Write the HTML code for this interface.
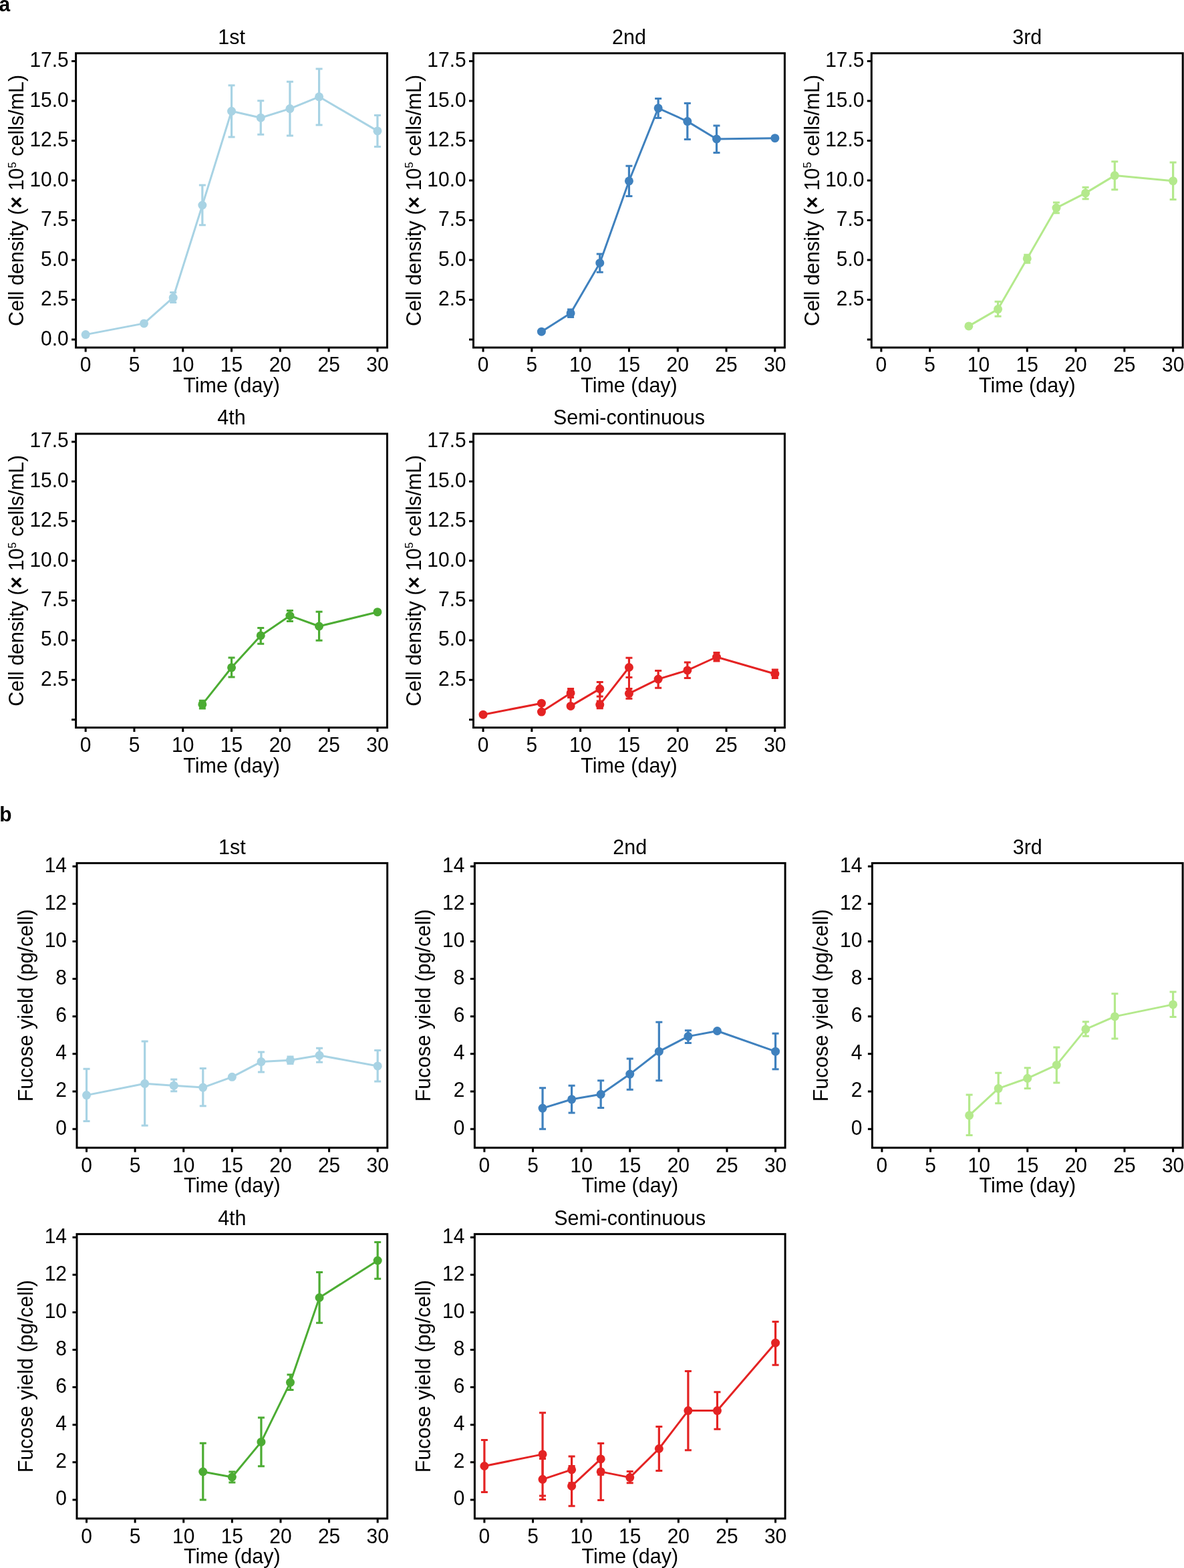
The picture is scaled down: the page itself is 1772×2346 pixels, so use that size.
<!DOCTYPE html><html><head><meta charset="utf-8"><title>Figure</title><style>html,body{margin:0;padding:0;background:#fff;}svg{display:block;}text{font-family:"Liberation Sans", Arial, Helvetica, sans-serif;font-size:30px;fill:#000;}</style></head><body>
<svg width="1772" height="2346" viewBox="0 0 1772 2346">
<rect width="1772" height="2346" fill="#fff"/>
<text transform="translate(-1.4 17.2) scale(1 1.04)" font-weight="bold">a</text>
<text transform="translate(-0.7 1229) scale(1 1.04)" font-weight="bold">b</text>
<path d="M107.1 508.1H113.6M107.1 448.6H113.6M107.1 389.1H113.6M107.1 329.6H113.6M107.1 270.1H113.6M107.1 210.6H113.6M107.1 151.1H113.6M107.1 91.6H113.6M128.16 520V526.5M200.96 520V526.5M273.75 520V526.5M346.55 520V526.5M419.35 520V526.5M492.14 520V526.5M564.94 520V526.5" stroke="#000" stroke-width="3" fill="none"/>
<rect x="113.6" y="79.7" width="465.9" height="440.3" fill="none" stroke="#000" stroke-width="3"/>
<text transform="translate(102.8 516.6) scale(1 1.04)" text-anchor="end">0.0</text>
<text transform="translate(102.8 457.1) scale(1 1.04)" text-anchor="end">2.5</text>
<text transform="translate(102.8 397.6) scale(1 1.04)" text-anchor="end">5.0</text>
<text transform="translate(102.8 338.1) scale(1 1.04)" text-anchor="end">7.5</text>
<text transform="translate(102.8 278.6) scale(1 1.04)" text-anchor="end">10.0</text>
<text transform="translate(102.8 219.1) scale(1 1.04)" text-anchor="end">12.5</text>
<text transform="translate(102.8 159.6) scale(1 1.04)" text-anchor="end">15.0</text>
<text transform="translate(102.8 100.1) scale(1 1.04)" text-anchor="end">17.5</text>
<text transform="translate(128.16 555.9) scale(1 1.04)" text-anchor="middle">0</text>
<text transform="translate(200.96 555.9) scale(1 1.04)" text-anchor="middle">5</text>
<text transform="translate(273.75 555.9) scale(1 1.04)" text-anchor="middle">10</text>
<text transform="translate(346.55 555.9) scale(1 1.04)" text-anchor="middle">15</text>
<text transform="translate(419.35 555.9) scale(1 1.04)" text-anchor="middle">20</text>
<text transform="translate(492.14 555.9) scale(1 1.04)" text-anchor="middle">25</text>
<text transform="translate(564.94 555.9) scale(1 1.04)" text-anchor="middle">30</text>
<text transform="translate(346.55 587) scale(1 1.04)" text-anchor="middle" style="font-size:30.5px">Time (day)</text>
<text transform="translate(346.55 66) scale(1 1.04)" text-anchor="middle" style="font-size:30.5px">1st</text>
<text transform="translate(35 299.85) rotate(-90) scale(1 1.04)" text-anchor="middle" style="font-size:30.5px">Cell density (<tspan style="font-weight:bold">&#215;</tspan> 10<tspan style="font-size:16.5px" dy="-11">5</tspan><tspan dy="11"> cells/mL)</tspan></text>
<path d="M259.19 437.6V452.6M302.87 277.1V336.8M346.55 127.8V205M390.23 150.7V201.3M433.91 122.3V203.1M477.58 102.9V187M564.94 172.6V219.6" stroke="#a8d3e4" stroke-width="3.2" fill="none"/>
<path d="M254.19 437.6H264.19M254.19 452.6H264.19M297.87 277.1H307.87M297.87 336.8H307.87M341.55 127.8H351.55M341.55 205H351.55M385.23 150.7H395.23M385.23 201.3H395.23M428.91 122.3H438.91M428.91 203.1H438.91M472.58 102.9H482.58M472.58 187H482.58M559.94 172.6H569.94M559.94 219.6H569.94" stroke="#a8d3e4" stroke-width="3" fill="none"/>
<polyline points="128.16,500.6 215.52,483.9 259.19,445.3 302.87,307 346.55,166.3 390.23,176.2 433.91,162.6 477.58,144.8 564.94,195.9" stroke="#a8d3e4" stroke-width="3" fill="none" stroke-linejoin="round"/>
<circle cx="128.16" cy="500.6" r="6.5" fill="#a8d3e4"/>
<circle cx="215.52" cy="483.9" r="6.5" fill="#a8d3e4"/>
<circle cx="259.19" cy="445.3" r="6.5" fill="#a8d3e4"/>
<circle cx="302.87" cy="307" r="6.5" fill="#a8d3e4"/>
<circle cx="346.55" cy="166.3" r="6.5" fill="#a8d3e4"/>
<circle cx="390.23" cy="176.2" r="6.5" fill="#a8d3e4"/>
<circle cx="433.91" cy="162.6" r="6.5" fill="#a8d3e4"/>
<circle cx="477.58" cy="144.8" r="6.5" fill="#a8d3e4"/>
<circle cx="564.94" cy="195.9" r="6.5" fill="#a8d3e4"/>
<path d="M702 508.1H708.5M702 448.6H708.5M702 389.1H708.5M702 329.6H708.5M702 270.1H708.5M702 210.6H708.5M702 151.1H708.5M702 91.6H708.5M723.06 520V526.5M795.86 520V526.5M868.65 520V526.5M941.45 520V526.5M1014.25 520V526.5M1087.04 520V526.5M1159.84 520V526.5" stroke="#000" stroke-width="3" fill="none"/>
<rect x="708.5" y="79.7" width="465.9" height="440.3" fill="none" stroke="#000" stroke-width="3"/>
<text transform="translate(697.7 457.1) scale(1 1.04)" text-anchor="end">2.5</text>
<text transform="translate(697.7 397.6) scale(1 1.04)" text-anchor="end">5.0</text>
<text transform="translate(697.7 338.1) scale(1 1.04)" text-anchor="end">7.5</text>
<text transform="translate(697.7 278.6) scale(1 1.04)" text-anchor="end">10.0</text>
<text transform="translate(697.7 219.1) scale(1 1.04)" text-anchor="end">12.5</text>
<text transform="translate(697.7 159.6) scale(1 1.04)" text-anchor="end">15.0</text>
<text transform="translate(697.7 100.1) scale(1 1.04)" text-anchor="end">17.5</text>
<text transform="translate(723.06 555.9) scale(1 1.04)" text-anchor="middle">0</text>
<text transform="translate(795.86 555.9) scale(1 1.04)" text-anchor="middle">5</text>
<text transform="translate(868.65 555.9) scale(1 1.04)" text-anchor="middle">10</text>
<text transform="translate(941.45 555.9) scale(1 1.04)" text-anchor="middle">15</text>
<text transform="translate(1014.25 555.9) scale(1 1.04)" text-anchor="middle">20</text>
<text transform="translate(1087.04 555.9) scale(1 1.04)" text-anchor="middle">25</text>
<text transform="translate(1159.84 555.9) scale(1 1.04)" text-anchor="middle">30</text>
<text transform="translate(941.45 587) scale(1 1.04)" text-anchor="middle" style="font-size:30.5px">Time (day)</text>
<text transform="translate(941.45 66) scale(1 1.04)" text-anchor="middle" style="font-size:30.5px">2nd</text>
<text transform="translate(629.9 299.85) rotate(-90) scale(1 1.04)" text-anchor="middle" style="font-size:30.5px">Cell density (<tspan style="font-weight:bold">&#215;</tspan> 10<tspan style="font-size:16.5px" dy="-11">5</tspan><tspan dy="11"> cells/mL)</tspan></text>
<path d="M854.09 463V474.4M897.77 380.1V407.3M941.45 248.2V293.4M985.13 147.4V176.5M1028.81 154.4V208.5M1072.48 187.9V228.6" stroke="#3f81be" stroke-width="3.2" fill="none"/>
<path d="M849.09 463H859.09M849.09 474.4H859.09M892.77 380.1H902.77M892.77 407.3H902.77M936.45 248.2H946.45M936.45 293.4H946.45M980.13 147.4H990.13M980.13 176.5H990.13M1023.81 154.4H1033.81M1023.81 208.5H1033.81M1067.48 187.9H1077.48M1067.48 228.6H1077.48" stroke="#3f81be" stroke-width="3" fill="none"/>
<polyline points="810.42,496.2 854.09,468.6 897.77,393.4 941.45,270.8 985.13,161.8 1028.81,181.6 1072.48,208 1159.84,206.7" stroke="#3f81be" stroke-width="3" fill="none" stroke-linejoin="round"/>
<circle cx="810.42" cy="496.2" r="6.5" fill="#3f81be"/>
<circle cx="854.09" cy="468.6" r="6.5" fill="#3f81be"/>
<circle cx="897.77" cy="393.4" r="6.5" fill="#3f81be"/>
<circle cx="941.45" cy="270.8" r="6.5" fill="#3f81be"/>
<circle cx="985.13" cy="161.8" r="6.5" fill="#3f81be"/>
<circle cx="1028.81" cy="181.6" r="6.5" fill="#3f81be"/>
<circle cx="1072.48" cy="208" r="6.5" fill="#3f81be"/>
<circle cx="1159.84" cy="206.7" r="6.5" fill="#3f81be"/>
<path d="M1297.8 508.1H1304.3M1297.8 448.6H1304.3M1297.8 389.1H1304.3M1297.8 329.6H1304.3M1297.8 270.1H1304.3M1297.8 210.6H1304.3M1297.8 151.1H1304.3M1297.8 91.6H1304.3M1318.86 520V526.5M1391.66 520V526.5M1464.45 520V526.5M1537.25 520V526.5M1610.05 520V526.5M1682.84 520V526.5M1755.64 520V526.5" stroke="#000" stroke-width="3" fill="none"/>
<rect x="1304.3" y="79.7" width="465.9" height="440.3" fill="none" stroke="#000" stroke-width="3"/>
<text transform="translate(1293.5 457.1) scale(1 1.04)" text-anchor="end">2.5</text>
<text transform="translate(1293.5 397.6) scale(1 1.04)" text-anchor="end">5.0</text>
<text transform="translate(1293.5 338.1) scale(1 1.04)" text-anchor="end">7.5</text>
<text transform="translate(1293.5 278.6) scale(1 1.04)" text-anchor="end">10.0</text>
<text transform="translate(1293.5 219.1) scale(1 1.04)" text-anchor="end">12.5</text>
<text transform="translate(1293.5 159.6) scale(1 1.04)" text-anchor="end">15.0</text>
<text transform="translate(1293.5 100.1) scale(1 1.04)" text-anchor="end">17.5</text>
<text transform="translate(1318.86 555.9) scale(1 1.04)" text-anchor="middle">0</text>
<text transform="translate(1391.66 555.9) scale(1 1.04)" text-anchor="middle">5</text>
<text transform="translate(1464.45 555.9) scale(1 1.04)" text-anchor="middle">10</text>
<text transform="translate(1537.25 555.9) scale(1 1.04)" text-anchor="middle">15</text>
<text transform="translate(1610.05 555.9) scale(1 1.04)" text-anchor="middle">20</text>
<text transform="translate(1682.84 555.9) scale(1 1.04)" text-anchor="middle">25</text>
<text transform="translate(1755.64 555.9) scale(1 1.04)" text-anchor="middle">30</text>
<text transform="translate(1537.25 587) scale(1 1.04)" text-anchor="middle" style="font-size:30.5px">Time (day)</text>
<text transform="translate(1537.25 66) scale(1 1.04)" text-anchor="middle" style="font-size:30.5px">3rd</text>
<text transform="translate(1225.7 299.85) rotate(-90) scale(1 1.04)" text-anchor="middle" style="font-size:30.5px">Cell density (<tspan style="font-weight:bold">&#215;</tspan> 10<tspan style="font-size:16.5px" dy="-11">5</tspan><tspan dy="11"> cells/mL)</tspan></text>
<path d="M1493.57 451.3V473.2M1537.25 381.3V393.2M1580.93 303V318.7M1624.61 280.3V297.7M1668.28 241.7V283.8M1755.64 242.9V298.5" stroke="#b4e98c" stroke-width="3.2" fill="none"/>
<path d="M1488.57 451.3H1498.57M1488.57 473.2H1498.57M1532.25 381.3H1542.25M1532.25 393.2H1542.25M1575.93 303H1585.93M1575.93 318.7H1585.93M1619.61 280.3H1629.61M1619.61 297.7H1629.61M1663.28 241.7H1673.28M1663.28 283.8H1673.28M1750.64 242.9H1760.64M1750.64 298.5H1760.64" stroke="#b4e98c" stroke-width="3" fill="none"/>
<polyline points="1449.89,487.9 1493.57,462.6 1537.25,386.9 1580.93,311.1 1624.61,288.9 1668.28,262.6 1755.64,270.7" stroke="#b4e98c" stroke-width="3" fill="none" stroke-linejoin="round"/>
<circle cx="1449.89" cy="487.9" r="6.5" fill="#b4e98c"/>
<circle cx="1493.57" cy="462.6" r="6.5" fill="#b4e98c"/>
<circle cx="1537.25" cy="386.9" r="6.5" fill="#b4e98c"/>
<circle cx="1580.93" cy="311.1" r="6.5" fill="#b4e98c"/>
<circle cx="1624.61" cy="288.9" r="6.5" fill="#b4e98c"/>
<circle cx="1668.28" cy="262.6" r="6.5" fill="#b4e98c"/>
<circle cx="1755.64" cy="270.7" r="6.5" fill="#b4e98c"/>
<path d="M107.1 1076.72H113.6M107.1 1017.31H113.6M107.1 957.91H113.6M107.1 898.5H113.6M107.1 839.1H113.6M107.1 779.69H113.6M107.1 720.29H113.6M107.1 660.88H113.6M128.16 1088.6V1095.1M200.96 1088.6V1095.1M273.75 1088.6V1095.1M346.55 1088.6V1095.1M419.35 1088.6V1095.1M492.14 1088.6V1095.1M564.94 1088.6V1095.1" stroke="#000" stroke-width="3" fill="none"/>
<rect x="113.6" y="649" width="465.9" height="439.6" fill="none" stroke="#000" stroke-width="3"/>
<text transform="translate(102.8 1025.81) scale(1 1.04)" text-anchor="end">2.5</text>
<text transform="translate(102.8 966.41) scale(1 1.04)" text-anchor="end">5.0</text>
<text transform="translate(102.8 907) scale(1 1.04)" text-anchor="end">7.5</text>
<text transform="translate(102.8 847.6) scale(1 1.04)" text-anchor="end">10.0</text>
<text transform="translate(102.8 788.19) scale(1 1.04)" text-anchor="end">12.5</text>
<text transform="translate(102.8 728.79) scale(1 1.04)" text-anchor="end">15.0</text>
<text transform="translate(102.8 669.38) scale(1 1.04)" text-anchor="end">17.5</text>
<text transform="translate(128.16 1124.5) scale(1 1.04)" text-anchor="middle">0</text>
<text transform="translate(200.96 1124.5) scale(1 1.04)" text-anchor="middle">5</text>
<text transform="translate(273.75 1124.5) scale(1 1.04)" text-anchor="middle">10</text>
<text transform="translate(346.55 1124.5) scale(1 1.04)" text-anchor="middle">15</text>
<text transform="translate(419.35 1124.5) scale(1 1.04)" text-anchor="middle">20</text>
<text transform="translate(492.14 1124.5) scale(1 1.04)" text-anchor="middle">25</text>
<text transform="translate(564.94 1124.5) scale(1 1.04)" text-anchor="middle">30</text>
<text transform="translate(346.55 1155.6) scale(1 1.04)" text-anchor="middle" style="font-size:30.5px">Time (day)</text>
<text transform="translate(346.55 635.3) scale(1 1.04)" text-anchor="middle" style="font-size:30.5px">4th</text>
<text transform="translate(35 868.8) rotate(-90) scale(1 1.04)" text-anchor="middle" style="font-size:30.5px">Cell density (<tspan style="font-weight:bold">&#215;</tspan> 10<tspan style="font-size:16.5px" dy="-11">5</tspan><tspan dy="11"> cells/mL)</tspan></text>
<path d="M302.87 1048.3V1060M346.55 983.9V1013.1M390.23 939.4V963.3M433.91 913.4V929.6M477.58 915.3V958.3" stroke="#4cac33" stroke-width="3.2" fill="none"/>
<path d="M297.87 1048.3H307.87M297.87 1060H307.87M341.55 983.9H351.55M341.55 1013.1H351.55M385.23 939.4H395.23M385.23 963.3H395.23M428.91 913.4H438.91M428.91 929.6H438.91M472.58 915.3H482.58M472.58 958.3H482.58" stroke="#4cac33" stroke-width="3" fill="none"/>
<polyline points="302.87,1053.9 346.55,998.8 390.23,950.9 433.91,921.2 477.58,937 564.94,915.7" stroke="#4cac33" stroke-width="3" fill="none" stroke-linejoin="round"/>
<circle cx="302.87" cy="1053.9" r="6.5" fill="#4cac33"/>
<circle cx="346.55" cy="998.8" r="6.5" fill="#4cac33"/>
<circle cx="390.23" cy="950.9" r="6.5" fill="#4cac33"/>
<circle cx="433.91" cy="921.2" r="6.5" fill="#4cac33"/>
<circle cx="477.58" cy="937" r="6.5" fill="#4cac33"/>
<circle cx="564.94" cy="915.7" r="6.5" fill="#4cac33"/>
<path d="M702 1076.72H708.5M702 1017.31H708.5M702 957.91H708.5M702 898.5H708.5M702 839.1H708.5M702 779.69H708.5M702 720.29H708.5M702 660.88H708.5M723.06 1088.6V1095.1M795.86 1088.6V1095.1M868.65 1088.6V1095.1M941.45 1088.6V1095.1M1014.25 1088.6V1095.1M1087.04 1088.6V1095.1M1159.84 1088.6V1095.1" stroke="#000" stroke-width="3" fill="none"/>
<rect x="708.5" y="649" width="465.9" height="439.6" fill="none" stroke="#000" stroke-width="3"/>
<text transform="translate(697.7 1025.81) scale(1 1.04)" text-anchor="end">2.5</text>
<text transform="translate(697.7 966.41) scale(1 1.04)" text-anchor="end">5.0</text>
<text transform="translate(697.7 907) scale(1 1.04)" text-anchor="end">7.5</text>
<text transform="translate(697.7 847.6) scale(1 1.04)" text-anchor="end">10.0</text>
<text transform="translate(697.7 788.19) scale(1 1.04)" text-anchor="end">12.5</text>
<text transform="translate(697.7 728.79) scale(1 1.04)" text-anchor="end">15.0</text>
<text transform="translate(697.7 669.38) scale(1 1.04)" text-anchor="end">17.5</text>
<text transform="translate(723.06 1124.5) scale(1 1.04)" text-anchor="middle">0</text>
<text transform="translate(795.86 1124.5) scale(1 1.04)" text-anchor="middle">5</text>
<text transform="translate(868.65 1124.5) scale(1 1.04)" text-anchor="middle">10</text>
<text transform="translate(941.45 1124.5) scale(1 1.04)" text-anchor="middle">15</text>
<text transform="translate(1014.25 1124.5) scale(1 1.04)" text-anchor="middle">20</text>
<text transform="translate(1087.04 1124.5) scale(1 1.04)" text-anchor="middle">25</text>
<text transform="translate(1159.84 1124.5) scale(1 1.04)" text-anchor="middle">30</text>
<text transform="translate(941.45 1155.6) scale(1 1.04)" text-anchor="middle" style="font-size:30.5px">Time (day)</text>
<text transform="translate(941.45 635.3) scale(1 1.04)" text-anchor="middle" style="font-size:30.5px">Semi-continuous</text>
<text transform="translate(629.9 868.8) rotate(-90) scale(1 1.04)" text-anchor="middle" style="font-size:30.5px">Cell density (<tspan style="font-weight:bold">&#215;</tspan> 10<tspan style="font-size:16.5px" dy="-11">5</tspan><tspan dy="11"> cells/mL)</tspan></text>
<path d="M854.09 1030.6V1043.5M854.09 1053.4V1059.4M897.77 1020.4V1041.9M897.77 1048.9V1059.7M941.45 984.3V1013.4M941.45 1030.6V1045.2M985.13 1003.4V1029.3M1028.81 990.9V1014.6M1072.48 976.6V989.1M1159.84 1002V1014.6" stroke="#e42323" stroke-width="3.2" fill="none"/>
<path d="M849.09 1030.6H859.09M849.09 1043.5H859.09M849.09 1053.4H859.09M849.09 1059.4H859.09M892.77 1020.4H902.77M892.77 1041.9H902.77M892.77 1048.9H902.77M892.77 1059.7H902.77M936.45 984.3H946.45M936.45 1013.4H946.45M936.45 1030.6H946.45M936.45 1045.2H946.45M980.13 1003.4H990.13M980.13 1029.3H990.13M1023.81 990.9H1033.81M1023.81 1014.6H1033.81M1067.48 976.6H1077.48M1067.48 989.1H1077.48M1154.84 1002H1164.84M1154.84 1014.6H1164.84" stroke="#e42323" stroke-width="3" fill="none"/>
<polyline points="723.06,1069.2 810.42,1052.2 810.42,1065.1 854.09,1036.9 854.09,1056.4 897.77,1030.6 897.77,1054.3 941.45,998.5 941.45,1037.6 985.13,1016.1 1028.81,1002.9 1072.48,983 1159.84,1008.2" stroke="#e42323" stroke-width="3" fill="none" stroke-linejoin="round"/>
<circle cx="723.06" cy="1069.2" r="6.5" fill="#e42323"/>
<circle cx="810.42" cy="1052.2" r="6.5" fill="#e42323"/>
<circle cx="810.42" cy="1065.1" r="6.5" fill="#e42323"/>
<circle cx="854.09" cy="1036.9" r="6.5" fill="#e42323"/>
<circle cx="854.09" cy="1056.4" r="6.5" fill="#e42323"/>
<circle cx="897.77" cy="1030.6" r="6.5" fill="#e42323"/>
<circle cx="897.77" cy="1054.3" r="6.5" fill="#e42323"/>
<circle cx="941.45" cy="998.5" r="6.5" fill="#e42323"/>
<circle cx="941.45" cy="1037.6" r="6.5" fill="#e42323"/>
<circle cx="985.13" cy="1016.1" r="6.5" fill="#e42323"/>
<circle cx="1028.81" cy="1002.9" r="6.5" fill="#e42323"/>
<circle cx="1072.48" cy="983" r="6.5" fill="#e42323"/>
<circle cx="1159.84" cy="1008.2" r="6.5" fill="#e42323"/>
<path d="M108.5 1689.13H115M108.5 1632.99H115M108.5 1576.86H115M108.5 1520.72H115M108.5 1464.58H115M108.5 1408.45H115M108.5 1352.31H115M108.5 1296.17H115M129.52 1717.2V1723.7M202.13 1717.2V1723.7M274.74 1717.2V1723.7M347.35 1717.2V1723.7M419.96 1717.2V1723.7M492.57 1717.2V1723.7M565.18 1717.2V1723.7" stroke="#000" stroke-width="3" fill="none"/>
<rect x="115" y="1291.4" width="464.7" height="425.8" fill="none" stroke="#000" stroke-width="3"/>
<text transform="translate(100 1697.63) scale(1 1.04)" text-anchor="end">0</text>
<text transform="translate(100 1641.49) scale(1 1.04)" text-anchor="end">2</text>
<text transform="translate(100 1585.36) scale(1 1.04)" text-anchor="end">4</text>
<text transform="translate(100 1529.22) scale(1 1.04)" text-anchor="end">6</text>
<text transform="translate(100 1473.08) scale(1 1.04)" text-anchor="end">8</text>
<text transform="translate(100 1416.95) scale(1 1.04)" text-anchor="end">10</text>
<text transform="translate(100 1360.81) scale(1 1.04)" text-anchor="end">12</text>
<text transform="translate(100 1304.67) scale(1 1.04)" text-anchor="end">14</text>
<text transform="translate(129.52 1754.1) scale(1 1.04)" text-anchor="middle">0</text>
<text transform="translate(202.13 1754.1) scale(1 1.04)" text-anchor="middle">5</text>
<text transform="translate(274.74 1754.1) scale(1 1.04)" text-anchor="middle">10</text>
<text transform="translate(347.35 1754.1) scale(1 1.04)" text-anchor="middle">15</text>
<text transform="translate(419.96 1754.1) scale(1 1.04)" text-anchor="middle">20</text>
<text transform="translate(492.57 1754.1) scale(1 1.04)" text-anchor="middle">25</text>
<text transform="translate(565.18 1754.1) scale(1 1.04)" text-anchor="middle">30</text>
<text transform="translate(347.35 1784.2) scale(1 1.04)" text-anchor="middle" style="font-size:30.5px">Time (day)</text>
<text transform="translate(347.35 1277.7) scale(1 1.04)" text-anchor="middle" style="font-size:30.5px">1st</text>
<text transform="translate(48.6 1504.3) rotate(-90) scale(1 1.04)" text-anchor="middle" style="font-size:30.5px">Fucose yield (pg/cell)</text>
<path d="M129.52 1599.2V1677.6M216.65 1558.1V1684M260.22 1615V1632.8M303.78 1598.6V1654.7M390.92 1573.9V1604.1M434.48 1581.1V1591.5M478.05 1568.2V1589.2M565.18 1571.4V1617.9" stroke="#a8d3e4" stroke-width="3.2" fill="none"/>
<path d="M124.52 1599.2H134.52M124.52 1677.6H134.52M211.65 1558.1H221.65M211.65 1684H221.65M255.22 1615H265.22M255.22 1632.8H265.22M298.78 1598.6H308.78M298.78 1654.7H308.78M385.92 1573.9H395.92M385.92 1604.1H395.92M429.48 1581.1H439.48M429.48 1591.5H439.48M473.05 1568.2H483.05M473.05 1589.2H483.05M560.18 1571.4H570.18M560.18 1617.9H570.18" stroke="#a8d3e4" stroke-width="3" fill="none"/>
<polyline points="129.52,1638.6 216.65,1621.3 260.22,1624.2 303.78,1627.1 347.35,1611.3 390.92,1588.6 434.48,1586.3 478.05,1579.1 565.18,1594.9" stroke="#a8d3e4" stroke-width="3" fill="none" stroke-linejoin="round"/>
<circle cx="129.52" cy="1638.6" r="6.5" fill="#a8d3e4"/>
<circle cx="216.65" cy="1621.3" r="6.5" fill="#a8d3e4"/>
<circle cx="260.22" cy="1624.2" r="6.5" fill="#a8d3e4"/>
<circle cx="303.78" cy="1627.1" r="6.5" fill="#a8d3e4"/>
<circle cx="347.35" cy="1611.3" r="6.5" fill="#a8d3e4"/>
<circle cx="390.92" cy="1588.6" r="6.5" fill="#a8d3e4"/>
<circle cx="434.48" cy="1586.3" r="6.5" fill="#a8d3e4"/>
<circle cx="478.05" cy="1579.1" r="6.5" fill="#a8d3e4"/>
<circle cx="565.18" cy="1594.9" r="6.5" fill="#a8d3e4"/>
<path d="M703.9 1689.13H710.4M703.9 1632.99H710.4M703.9 1576.86H710.4M703.9 1520.72H710.4M703.9 1464.58H710.4M703.9 1408.45H710.4M703.9 1352.31H710.4M703.9 1296.17H710.4M724.92 1717.2V1723.7M797.53 1717.2V1723.7M870.14 1717.2V1723.7M942.75 1717.2V1723.7M1015.36 1717.2V1723.7M1087.97 1717.2V1723.7M1160.58 1717.2V1723.7" stroke="#000" stroke-width="3" fill="none"/>
<rect x="710.4" y="1291.4" width="464.7" height="425.8" fill="none" stroke="#000" stroke-width="3"/>
<text transform="translate(695.4 1697.63) scale(1 1.04)" text-anchor="end">0</text>
<text transform="translate(695.4 1641.49) scale(1 1.04)" text-anchor="end">2</text>
<text transform="translate(695.4 1585.36) scale(1 1.04)" text-anchor="end">4</text>
<text transform="translate(695.4 1529.22) scale(1 1.04)" text-anchor="end">6</text>
<text transform="translate(695.4 1473.08) scale(1 1.04)" text-anchor="end">8</text>
<text transform="translate(695.4 1416.95) scale(1 1.04)" text-anchor="end">10</text>
<text transform="translate(695.4 1360.81) scale(1 1.04)" text-anchor="end">12</text>
<text transform="translate(695.4 1304.67) scale(1 1.04)" text-anchor="end">14</text>
<text transform="translate(724.92 1754.1) scale(1 1.04)" text-anchor="middle">0</text>
<text transform="translate(797.53 1754.1) scale(1 1.04)" text-anchor="middle">5</text>
<text transform="translate(870.14 1754.1) scale(1 1.04)" text-anchor="middle">10</text>
<text transform="translate(942.75 1754.1) scale(1 1.04)" text-anchor="middle">15</text>
<text transform="translate(1015.36 1754.1) scale(1 1.04)" text-anchor="middle">20</text>
<text transform="translate(1087.97 1754.1) scale(1 1.04)" text-anchor="middle">25</text>
<text transform="translate(1160.58 1754.1) scale(1 1.04)" text-anchor="middle">30</text>
<text transform="translate(942.75 1784.2) scale(1 1.04)" text-anchor="middle" style="font-size:30.5px">Time (day)</text>
<text transform="translate(942.75 1277.7) scale(1 1.04)" text-anchor="middle" style="font-size:30.5px">2nd</text>
<text transform="translate(644 1504.3) rotate(-90) scale(1 1.04)" text-anchor="middle" style="font-size:30.5px">Fucose yield (pg/cell)</text>
<path d="M812.05 1627.7V1689.3M855.62 1624.2V1664.9M899.18 1616.7V1657.6M942.75 1584V1630.2M986.32 1529.2V1616.7M1029.88 1541.8V1560.6M1160.58 1546.3V1599.8" stroke="#3f81be" stroke-width="3.2" fill="none"/>
<path d="M807.05 1627.7H817.05M807.05 1689.3H817.05M850.62 1624.2H860.62M850.62 1664.9H860.62M894.18 1616.7H904.18M894.18 1657.6H904.18M937.75 1584H947.75M937.75 1630.2H947.75M981.32 1529.2H991.32M981.32 1616.7H991.32M1024.88 1541.8H1034.88M1024.88 1560.6H1034.88M1155.58 1546.3H1165.58M1155.58 1599.8H1165.58" stroke="#3f81be" stroke-width="3" fill="none"/>
<polyline points="812.05,1658.1 855.62,1644.8 899.18,1637.3 942.75,1607.1 986.32,1573.2 1029.88,1550.6 1073.45,1542.5 1160.58,1573.2" stroke="#3f81be" stroke-width="3" fill="none" stroke-linejoin="round"/>
<circle cx="812.05" cy="1658.1" r="6.5" fill="#3f81be"/>
<circle cx="855.62" cy="1644.8" r="6.5" fill="#3f81be"/>
<circle cx="899.18" cy="1637.3" r="6.5" fill="#3f81be"/>
<circle cx="942.75" cy="1607.1" r="6.5" fill="#3f81be"/>
<circle cx="986.32" cy="1573.2" r="6.5" fill="#3f81be"/>
<circle cx="1029.88" cy="1550.6" r="6.5" fill="#3f81be"/>
<circle cx="1073.45" cy="1542.5" r="6.5" fill="#3f81be"/>
<circle cx="1160.58" cy="1573.2" r="6.5" fill="#3f81be"/>
<path d="M1298.9 1689.13H1305.4M1298.9 1632.99H1305.4M1298.9 1576.86H1305.4M1298.9 1520.72H1305.4M1298.9 1464.58H1305.4M1298.9 1408.45H1305.4M1298.9 1352.31H1305.4M1298.9 1296.17H1305.4M1319.92 1717.2V1723.7M1392.53 1717.2V1723.7M1465.14 1717.2V1723.7M1537.75 1717.2V1723.7M1610.36 1717.2V1723.7M1682.97 1717.2V1723.7M1755.58 1717.2V1723.7" stroke="#000" stroke-width="3" fill="none"/>
<rect x="1305.4" y="1291.4" width="464.7" height="425.8" fill="none" stroke="#000" stroke-width="3"/>
<text transform="translate(1290.4 1697.63) scale(1 1.04)" text-anchor="end">0</text>
<text transform="translate(1290.4 1641.49) scale(1 1.04)" text-anchor="end">2</text>
<text transform="translate(1290.4 1585.36) scale(1 1.04)" text-anchor="end">4</text>
<text transform="translate(1290.4 1529.22) scale(1 1.04)" text-anchor="end">6</text>
<text transform="translate(1290.4 1473.08) scale(1 1.04)" text-anchor="end">8</text>
<text transform="translate(1290.4 1416.95) scale(1 1.04)" text-anchor="end">10</text>
<text transform="translate(1290.4 1360.81) scale(1 1.04)" text-anchor="end">12</text>
<text transform="translate(1290.4 1304.67) scale(1 1.04)" text-anchor="end">14</text>
<text transform="translate(1319.92 1754.1) scale(1 1.04)" text-anchor="middle">0</text>
<text transform="translate(1392.53 1754.1) scale(1 1.04)" text-anchor="middle">5</text>
<text transform="translate(1465.14 1754.1) scale(1 1.04)" text-anchor="middle">10</text>
<text transform="translate(1537.75 1754.1) scale(1 1.04)" text-anchor="middle">15</text>
<text transform="translate(1610.36 1754.1) scale(1 1.04)" text-anchor="middle">20</text>
<text transform="translate(1682.97 1754.1) scale(1 1.04)" text-anchor="middle">25</text>
<text transform="translate(1755.58 1754.1) scale(1 1.04)" text-anchor="middle">30</text>
<text transform="translate(1537.75 1784.2) scale(1 1.04)" text-anchor="middle" style="font-size:30.5px">Time (day)</text>
<text transform="translate(1537.75 1277.7) scale(1 1.04)" text-anchor="middle" style="font-size:30.5px">3rd</text>
<text transform="translate(1239 1504.3) rotate(-90) scale(1 1.04)" text-anchor="middle" style="font-size:30.5px">Fucose yield (pg/cell)</text>
<path d="M1450.62 1638V1698.4M1494.18 1605.2V1650.8M1537.75 1597.8V1628.6M1581.32 1567V1620M1624.88 1528.8V1550.2M1668.45 1486.8V1553.9M1755.58 1483.9V1521.4" stroke="#b4e98c" stroke-width="3.2" fill="none"/>
<path d="M1445.62 1638H1455.62M1445.62 1698.4H1455.62M1489.18 1605.2H1499.18M1489.18 1650.8H1499.18M1532.75 1597.8H1542.75M1532.75 1628.6H1542.75M1576.32 1567H1586.32M1576.32 1620H1586.32M1619.88 1528.8H1629.88M1619.88 1550.2H1629.88M1663.45 1486.8H1673.45M1663.45 1553.9H1673.45M1750.58 1483.9H1760.58M1750.58 1521.4H1760.58" stroke="#b4e98c" stroke-width="3" fill="none"/>
<polyline points="1450.62,1668.8 1494.18,1628.6 1537.75,1613.3 1581.32,1593.4 1624.88,1539.9 1668.45,1520.9 1755.58,1502.9" stroke="#b4e98c" stroke-width="3" fill="none" stroke-linejoin="round"/>
<circle cx="1450.62" cy="1668.8" r="6.5" fill="#b4e98c"/>
<circle cx="1494.18" cy="1628.6" r="6.5" fill="#b4e98c"/>
<circle cx="1537.75" cy="1613.3" r="6.5" fill="#b4e98c"/>
<circle cx="1581.32" cy="1593.4" r="6.5" fill="#b4e98c"/>
<circle cx="1624.88" cy="1539.9" r="6.5" fill="#b4e98c"/>
<circle cx="1668.45" cy="1520.9" r="6.5" fill="#b4e98c"/>
<circle cx="1755.58" cy="1502.9" r="6.5" fill="#b4e98c"/>
<path d="M108.5 2243.94H115M108.5 2187.83H115M108.5 2131.72H115M108.5 2075.61H115M108.5 2019.5H115M108.5 1963.39H115M108.5 1907.28H115M108.5 1851.17H115M129.52 2272V2278.5M202.13 2272V2278.5M274.74 2272V2278.5M347.35 2272V2278.5M419.96 2272V2278.5M492.57 2272V2278.5M565.18 2272V2278.5" stroke="#000" stroke-width="3" fill="none"/>
<rect x="115" y="1846.4" width="464.7" height="425.6" fill="none" stroke="#000" stroke-width="3"/>
<text transform="translate(100 2252.44) scale(1 1.04)" text-anchor="end">0</text>
<text transform="translate(100 2196.33) scale(1 1.04)" text-anchor="end">2</text>
<text transform="translate(100 2140.22) scale(1 1.04)" text-anchor="end">4</text>
<text transform="translate(100 2084.11) scale(1 1.04)" text-anchor="end">6</text>
<text transform="translate(100 2028) scale(1 1.04)" text-anchor="end">8</text>
<text transform="translate(100 1971.89) scale(1 1.04)" text-anchor="end">10</text>
<text transform="translate(100 1915.78) scale(1 1.04)" text-anchor="end">12</text>
<text transform="translate(100 1859.67) scale(1 1.04)" text-anchor="end">14</text>
<text transform="translate(129.52 2308.9) scale(1 1.04)" text-anchor="middle">0</text>
<text transform="translate(202.13 2308.9) scale(1 1.04)" text-anchor="middle">5</text>
<text transform="translate(274.74 2308.9) scale(1 1.04)" text-anchor="middle">10</text>
<text transform="translate(347.35 2308.9) scale(1 1.04)" text-anchor="middle">15</text>
<text transform="translate(419.96 2308.9) scale(1 1.04)" text-anchor="middle">20</text>
<text transform="translate(492.57 2308.9) scale(1 1.04)" text-anchor="middle">25</text>
<text transform="translate(565.18 2308.9) scale(1 1.04)" text-anchor="middle">30</text>
<text transform="translate(347.35 2339) scale(1 1.04)" text-anchor="middle" style="font-size:30.5px">Time (day)</text>
<text transform="translate(347.35 1832.7) scale(1 1.04)" text-anchor="middle" style="font-size:30.5px">4th</text>
<text transform="translate(48.6 2059.2) rotate(-90) scale(1 1.04)" text-anchor="middle" style="font-size:30.5px">Fucose yield (pg/cell)</text>
<path d="M303.78 2159.3V2244.1M347.35 2202V2218.1M390.92 2121V2193.7M434.48 2056.8V2079.4M478.05 1903.6V1979.3M565.18 1858.6V1913.2" stroke="#4cac33" stroke-width="3.2" fill="none"/>
<path d="M298.78 2159.3H308.78M298.78 2244.1H308.78M342.35 2202H352.35M342.35 2218.1H352.35M385.92 2121H395.92M385.92 2193.7H395.92M429.48 2056.8H439.48M429.48 2079.4H439.48M473.05 1903.6H483.05M473.05 1979.3H483.05M560.18 1858.6H570.18M560.18 1913.2H570.18" stroke="#4cac33" stroke-width="3" fill="none"/>
<polyline points="303.78,2202 347.35,2210 390.92,2157.4 434.48,2068.3 478.05,1941.5 565.18,1886" stroke="#4cac33" stroke-width="3" fill="none" stroke-linejoin="round"/>
<circle cx="303.78" cy="2202" r="6.5" fill="#4cac33"/>
<circle cx="347.35" cy="2210" r="6.5" fill="#4cac33"/>
<circle cx="390.92" cy="2157.4" r="6.5" fill="#4cac33"/>
<circle cx="434.48" cy="2068.3" r="6.5" fill="#4cac33"/>
<circle cx="478.05" cy="1941.5" r="6.5" fill="#4cac33"/>
<circle cx="565.18" cy="1886" r="6.5" fill="#4cac33"/>
<path d="M703.9 2243.94H710.4M703.9 2187.83H710.4M703.9 2131.72H710.4M703.9 2075.61H710.4M703.9 2019.5H710.4M703.9 1963.39H710.4M703.9 1907.28H710.4M703.9 1851.17H710.4M724.92 2272V2278.5M797.53 2272V2278.5M870.14 2272V2278.5M942.75 2272V2278.5M1015.36 2272V2278.5M1087.97 2272V2278.5M1160.58 2272V2278.5" stroke="#000" stroke-width="3" fill="none"/>
<rect x="710.4" y="1846.4" width="464.7" height="425.6" fill="none" stroke="#000" stroke-width="3"/>
<text transform="translate(695.4 2252.44) scale(1 1.04)" text-anchor="end">0</text>
<text transform="translate(695.4 2196.33) scale(1 1.04)" text-anchor="end">2</text>
<text transform="translate(695.4 2140.22) scale(1 1.04)" text-anchor="end">4</text>
<text transform="translate(695.4 2084.11) scale(1 1.04)" text-anchor="end">6</text>
<text transform="translate(695.4 2028) scale(1 1.04)" text-anchor="end">8</text>
<text transform="translate(695.4 1971.89) scale(1 1.04)" text-anchor="end">10</text>
<text transform="translate(695.4 1915.78) scale(1 1.04)" text-anchor="end">12</text>
<text transform="translate(695.4 1859.67) scale(1 1.04)" text-anchor="end">14</text>
<text transform="translate(724.92 2308.9) scale(1 1.04)" text-anchor="middle">0</text>
<text transform="translate(797.53 2308.9) scale(1 1.04)" text-anchor="middle">5</text>
<text transform="translate(870.14 2308.9) scale(1 1.04)" text-anchor="middle">10</text>
<text transform="translate(942.75 2308.9) scale(1 1.04)" text-anchor="middle">15</text>
<text transform="translate(1015.36 2308.9) scale(1 1.04)" text-anchor="middle">20</text>
<text transform="translate(1087.97 2308.9) scale(1 1.04)" text-anchor="middle">25</text>
<text transform="translate(1160.58 2308.9) scale(1 1.04)" text-anchor="middle">30</text>
<text transform="translate(942.75 2339) scale(1 1.04)" text-anchor="middle" style="font-size:30.5px">Time (day)</text>
<text transform="translate(942.75 1832.7) scale(1 1.04)" text-anchor="middle" style="font-size:30.5px">Semi-continuous</text>
<text transform="translate(644 2059.2) rotate(-90) scale(1 1.04)" text-anchor="middle" style="font-size:30.5px">Fucose yield (pg/cell)</text>
<path d="M724.92 2154.6V2232.4M812.05 2113.7V2238.1M812.05 2182.5V2243.6M855.62 2179V2218.8M855.62 2193.6V2253.2M899.18 2159.6V2206.2M899.18 2159.4V2244.4M942.75 2201.6V2218.7M986.32 2134.5V2200.6M1029.88 2051.4V2169.8M1073.45 2082.7V2138.3M1160.58 1977.6V2042.2" stroke="#e42323" stroke-width="3.2" fill="none"/>
<path d="M719.92 2154.6H729.92M719.92 2232.4H729.92M807.05 2113.7H817.05M807.05 2238.1H817.05M807.05 2182.5H817.05M807.05 2243.6H817.05M850.62 2179H860.62M850.62 2218.8H860.62M850.62 2193.6H860.62M850.62 2253.2H860.62M894.18 2159.6H904.18M894.18 2206.2H904.18M894.18 2159.4H904.18M894.18 2244.4H904.18M937.75 2201.6H947.75M937.75 2218.7H947.75M981.32 2134.5H991.32M981.32 2200.6H991.32M1024.88 2051.4H1034.88M1024.88 2169.8H1034.88M1068.45 2082.7H1078.45M1068.45 2138.3H1078.45M1155.58 1977.6H1165.58M1155.58 2042.2H1165.58" stroke="#e42323" stroke-width="3" fill="none"/>
<polyline points="724.92,2193.5 812.05,2175.9 812.05,2213.3 855.62,2198.9 855.62,2223.4 899.18,2182.9 899.18,2201.9 942.75,2210.6 986.32,2167.5 1029.88,2110.6 1073.45,2110.6 1160.58,2009.2" stroke="#e42323" stroke-width="3" fill="none" stroke-linejoin="round"/>
<circle cx="724.92" cy="2193.5" r="6.5" fill="#e42323"/>
<circle cx="812.05" cy="2175.9" r="6.5" fill="#e42323"/>
<circle cx="812.05" cy="2213.3" r="6.5" fill="#e42323"/>
<circle cx="855.62" cy="2198.9" r="6.5" fill="#e42323"/>
<circle cx="855.62" cy="2223.4" r="6.5" fill="#e42323"/>
<circle cx="899.18" cy="2182.9" r="6.5" fill="#e42323"/>
<circle cx="899.18" cy="2201.9" r="6.5" fill="#e42323"/>
<circle cx="942.75" cy="2210.6" r="6.5" fill="#e42323"/>
<circle cx="986.32" cy="2167.5" r="6.5" fill="#e42323"/>
<circle cx="1029.88" cy="2110.6" r="6.5" fill="#e42323"/>
<circle cx="1073.45" cy="2110.6" r="6.5" fill="#e42323"/>
<circle cx="1160.58" cy="2009.2" r="6.5" fill="#e42323"/>
</svg></body></html>
